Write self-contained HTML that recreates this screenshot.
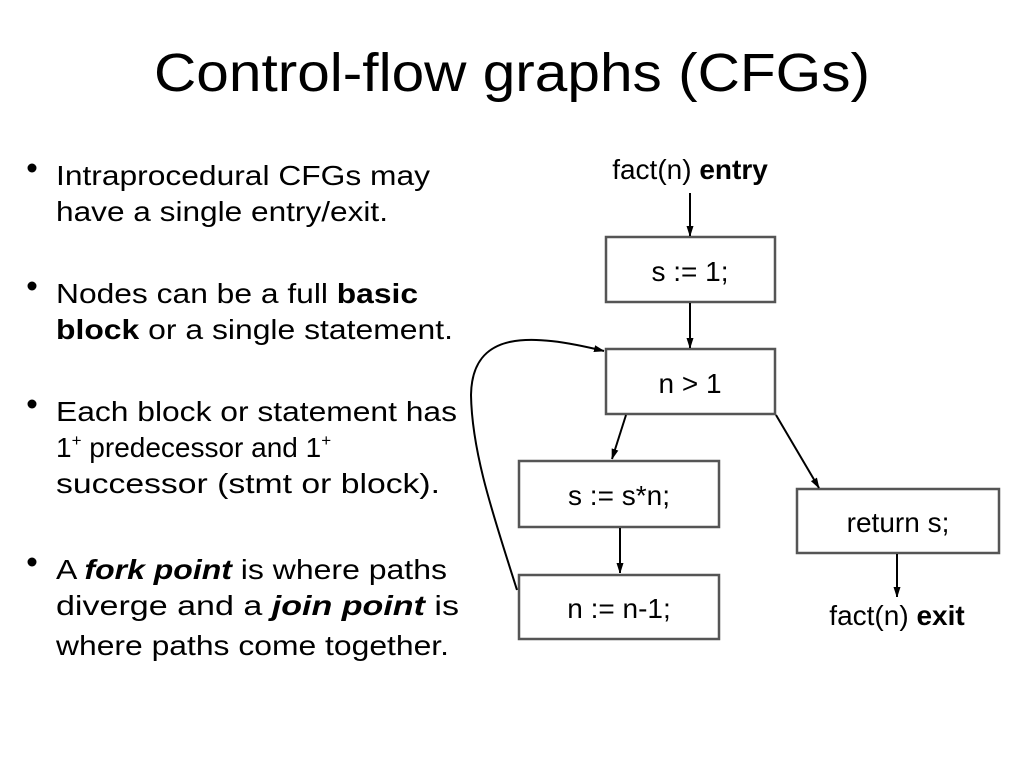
<!DOCTYPE html>
<html><head><meta charset="utf-8"><style>
html,body{margin:0;padding:0;background:#fff;}
svg{display:block;font-family:"Liberation Sans",Arial,sans-serif;}
</style></head><body>
<svg width="1024" height="768" viewBox="0 0 1024 768" xmlns="http://www.w3.org/2000/svg">
<defs>
<marker id="a" markerWidth="10" markerHeight="14" refX="10" refY="5" orient="auto" markerUnits="userSpaceOnUse">
<path d="M0,1.5 L11,5 L0,8.5 z" fill="#000"/>
</marker>
</defs>
<text x="512" y="91" font-size="54" text-anchor="middle" textLength="716" lengthAdjust="spacingAndGlyphs">Control-flow graphs (CFGs)</text>
<g font-size="28" lengthAdjust="spacingAndGlyphs">
<circle cx="32" cy="168" r="4.5"/>
<text x="56" y="185" textLength="374" lengthAdjust="spacingAndGlyphs">Intraprocedural CFGs may</text>
<text x="56" y="221" textLength="332" lengthAdjust="spacingAndGlyphs">have a single entry/exit.</text>
<circle cx="32" cy="286" r="4.5"/>
<text x="56" y="303" textLength="362" lengthAdjust="spacingAndGlyphs">Nodes can be a full <tspan font-weight="bold">basic</tspan></text>
<text x="56" y="339" textLength="397" lengthAdjust="spacingAndGlyphs"><tspan font-weight="bold">block</tspan> or a single statement.</text>
<circle cx="32" cy="404" r="4.5"/>
<text x="56" y="421" textLength="401" lengthAdjust="spacingAndGlyphs">Each block or statement has</text>
<text x="56" y="457">1<tspan font-size="17" dy="-11">+</tspan><tspan dy="11"> predecessor and 1</tspan><tspan font-size="17" dy="-11">+</tspan></text>
<text x="56" y="493" textLength="384" lengthAdjust="spacingAndGlyphs">successor (stmt or block).</text>
<circle cx="32" cy="562" r="4.5"/>
<text x="56" y="579" textLength="391" lengthAdjust="spacingAndGlyphs">A <tspan font-weight="bold" font-style="italic">fork point</tspan> is where paths</text>
<text x="56" y="615" textLength="403" lengthAdjust="spacingAndGlyphs">diverge and a <tspan font-weight="bold" font-style="italic">join point</tspan> is</text>
<text x="56" y="655" textLength="393" lengthAdjust="spacingAndGlyphs">where paths come together.</text>
</g>
<g fill="none" stroke="#555" stroke-width="2.5">
<rect x="606" y="237" width="169" height="65"/>
<rect x="606" y="349" width="169" height="65"/>
<rect x="519" y="461" width="200" height="66"/>
<rect x="519" y="575" width="200" height="64"/>
<rect x="797" y="489" width="202" height="64"/>
</g>
<g font-size="28" text-anchor="middle">
<text x="690" y="179">fact(n) <tspan font-weight="bold">entry</tspan></text>
<text x="690" y="281">s := 1;</text>
<text x="690" y="393">n &gt; 1</text>
<text x="619" y="505">s := s*n;</text>
<text x="619" y="618">n := n-1;</text>
<text x="898" y="532">return s;</text>
<text x="897" y="625">fact(n) <tspan font-weight="bold">exit</tspan></text>
</g>
<g stroke="#000" stroke-width="2" fill="none" marker-end="url(#a)">
<line x1="690" y1="193" x2="690" y2="236"/>
<line x1="690" y1="303" x2="690" y2="348"/>
<line x1="626" y1="415" x2="612" y2="459"/>
<line x1="776" y1="415" x2="819" y2="488"/>
<line x1="620" y1="528" x2="620" y2="573"/>
<line x1="897" y1="554" x2="897" y2="597"/>
<path d="M517,590 C495,520 472,455 471,395 C472,330 530,333 604,351"/>
</g>
</svg>
</body></html>
